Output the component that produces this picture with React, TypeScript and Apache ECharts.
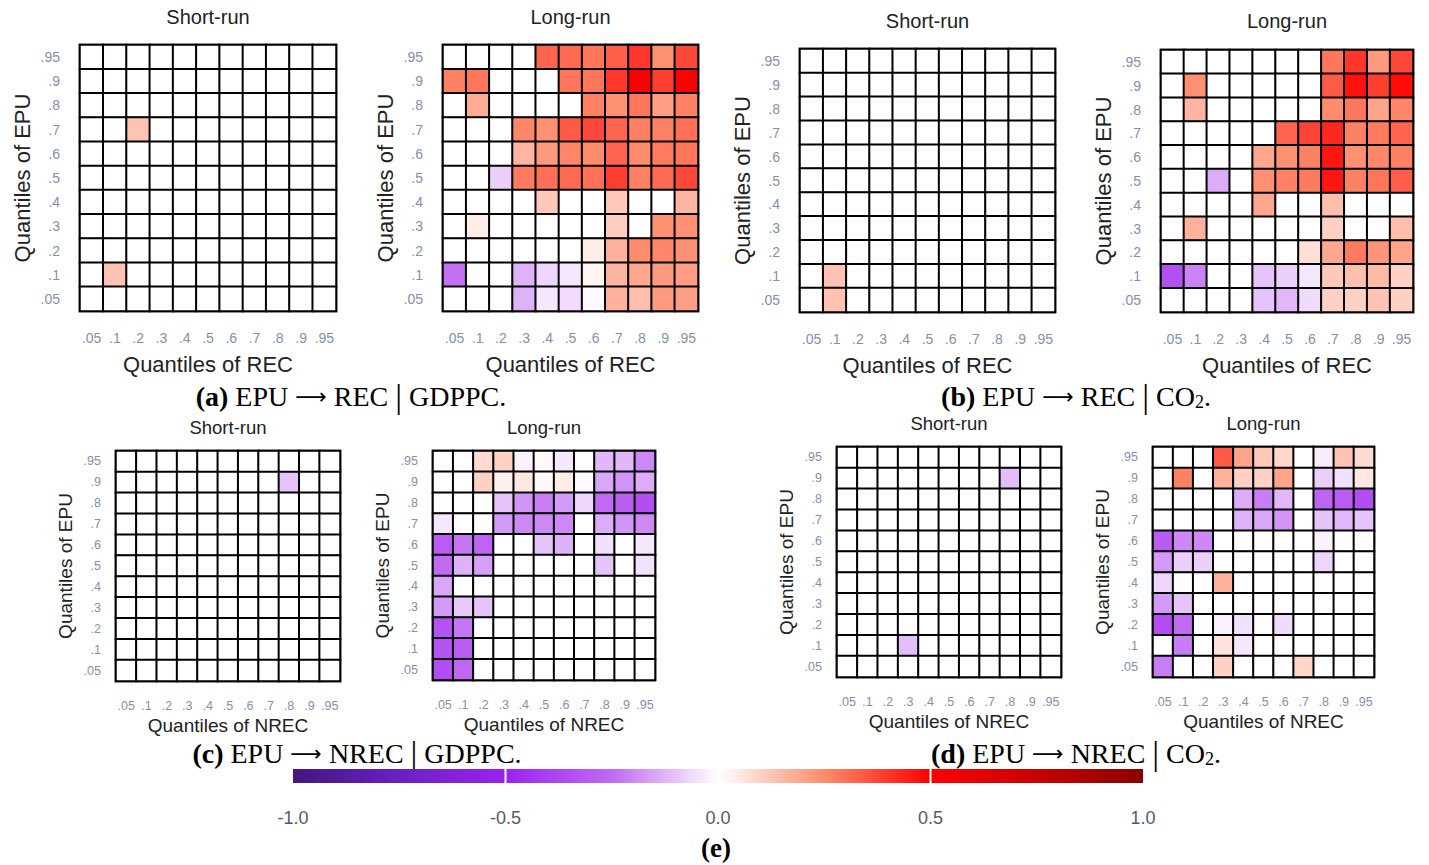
import React, { useEffect, useRef } from "react";
import * as echarts from "echarts";

// ---------- data ----------
const quantiles = [".05", ".1", ".2", ".3", ".4", ".5", ".6", ".7", ".8", ".9", ".95"];
const colorbarTicks = [-1.0, -0.5, 0.0, 0.5, 1.0];
const colorStops = ["#43177f", "#6a20c2", "#9d22ee", "#c06af4", "#ffffff", "#ff8c6c", "#ff0000", "#c80000", "#8b0000"];

// rows listed top (.95) to bottom (.05); columns .05 ... .95
const aShort = [
  [0, 0, 0, 0, 0, 0, 0, 0, 0, 0, 0],
  [0, 0, 0, 0, 0, 0, 0, 0, 0, 0, 0],
  [0, 0, 0, 0, 0, 0, 0, 0, 0, 0, 0],
  [0, 0, 0.13, 0, 0, 0, 0, 0, 0, 0, 0],
  [0, 0, 0, 0, 0, 0, 0, 0, 0, 0, 0],
  [0, 0, 0, 0, 0, 0, 0, 0, 0, 0, 0],
  [0, 0, 0, 0, 0, 0, 0, 0, 0, 0, 0],
  [0, 0, 0, 0, 0, 0, 0, 0, 0, 0, 0],
  [0, 0, 0, 0, 0, 0, 0, 0, 0, 0, 0],
  [0, 0.13, 0, 0, 0, 0, 0, 0, 0, 0, 0],
  [0, 0, 0, 0, 0, 0, 0, 0, 0, 0, 0],
];
const aLong = [
  [0, 0, 0, 0, 0.32, 0.31, 0.29, 0.33, 0.4, 0.24, 0.37],
  [0.27, 0.29, 0, 0, 0, 0.29, 0.29, 0.4, 0.5, 0.39, 0.5],
  [0, 0.18, 0, 0, 0, 0, 0.27, 0.24, 0.29, 0.21, 0.27],
  [0, 0, 0, 0.26, 0.24, 0.34, 0.37, 0.32, 0.27, 0.27, 0.3],
  [0, 0, 0, 0.16, 0.22, 0.26, 0.25, 0.32, 0.25, 0.28, 0.29],
  [0, 0, -0.08, 0.28, 0.3, 0.31, 0.3, 0.39, 0.27, 0.31, 0.37],
  [0, 0, 0, 0, 0.12, 0, 0, 0.12, 0, 0, 0.16],
  [0, 0.04, 0, 0, 0, 0, 0, 0.11, 0, 0.24, 0.24],
  [0, 0, 0, 0, 0, 0, 0.04, 0.17, 0.25, 0.26, 0.24],
  [-0.24, 0, 0, -0.13, -0.07, -0.04, 0.02, 0.16, 0.19, 0.22, 0.21],
  [0, 0, 0, -0.13, -0.04, -0.06, -0.01, 0.17, 0.14, 0.22, 0.21],
];
const bShort = [
  [0, 0, 0, 0, 0, 0, 0, 0, 0, 0, 0],
  [0, 0, 0, 0, 0, 0, 0, 0, 0, 0, 0],
  [0, 0, 0, 0, 0, 0, 0, 0, 0, 0, 0],
  [0, 0, 0, 0, 0, 0, 0, 0, 0, 0, 0],
  [0, 0, 0, 0, 0, 0, 0, 0, 0, 0, 0],
  [0, 0, 0, 0, 0, 0, 0, 0, 0, 0, 0],
  [0, 0, 0, 0, 0, 0, 0, 0, 0, 0, 0],
  [0, 0, 0, 0, 0, 0, 0, 0, 0, 0, 0],
  [0, 0, 0, 0, 0, 0, 0, 0, 0, 0, 0],
  [0, 0.13, 0, 0, 0, 0, 0, 0, 0, 0, 0],
  [0, 0.13, 0, 0, 0, 0, 0, 0, 0, 0, 0],
];
const bLong = [
  [0, 0, 0, 0, 0, 0, 0, 0.29, 0.4, 0.22, 0.37],
  [0, 0.24, 0, 0, 0, 0, 0, 0.34, 0.47, 0.39, 0.48],
  [0, 0.16, 0, 0, 0, 0, 0, 0.25, 0.29, 0.2, 0.26],
  [0, 0, 0, 0, 0, 0.32, 0.38, 0.43, 0.27, 0.28, 0.32],
  [0, 0, 0, 0, 0.19, 0.24, 0.27, 0.46, 0.24, 0.26, 0.27],
  [0, 0, -0.14, 0, 0.24, 0.27, 0.28, 0.46, 0.27, 0.29, 0.33],
  [0, 0, 0, 0, 0.19, 0, 0, 0.14, 0, 0, 0],
  [0, 0.17, 0, 0, 0, 0, 0, 0.1, 0, 0, 0.14],
  [0, 0, 0, 0, 0, 0, 0.07, 0.19, 0.28, 0.23, 0.2],
  [-0.34, -0.21, 0, 0, -0.1, -0.08, -0.04, 0.12, 0.14, 0.15, 0.1],
  [0, 0, 0, 0, -0.1, -0.12, -0.06, 0.1, 0.1, 0.13, 0.1],
];
const cShort = [
  [0, 0, 0, 0, 0, 0, 0, 0, 0, 0, 0],
  [0, 0, 0, 0, 0, 0, 0, 0, -0.1, 0, 0],
  [0, 0, 0, 0, 0, 0, 0, 0, 0, 0, 0],
  [0, 0, 0, 0, 0, 0, 0, 0, 0, 0, 0],
  [0, 0, 0, 0, 0, 0, 0, 0, 0, 0, 0],
  [0, 0, 0, 0, 0, 0, 0, 0, 0, 0, 0],
  [0, 0, 0, 0, 0, 0, 0, 0, 0, 0, 0],
  [0, 0, 0, 0, 0, 0, 0, 0, 0, 0, 0],
  [0, 0, 0, 0, 0, 0, 0, 0, 0, 0, 0],
  [0, 0, 0, 0, 0, 0, 0, 0, 0, 0, 0],
  [0, 0, 0, 0, 0, 0, 0, 0, 0, 0, 0],
];
const cLong = [
  [0, 0, 0.08, 0.1, -0.02, 0.01, -0.04, 0, -0.12, -0.12, -0.2],
  [0, 0, 0.1, 0.03, 0.05, 0.01, 0.04, -0.01, -0.15, -0.18, -0.14],
  [0, 0, 0, -0.1, -0.18, -0.22, -0.17, -0.07, -0.25, -0.29, -0.35],
  [-0.04, 0, 0, -0.17, -0.2, -0.2, -0.2, 0, -0.14, -0.18, -0.2],
  [-0.3, -0.23, -0.27, 0, 0, -0.1, -0.13, 0, -0.05, 0, -0.04],
  [-0.25, -0.13, -0.16, 0, 0, 0, 0, 0, -0.1, 0, -0.05],
  [-0.15, 0, 0, 0, 0, 0, 0, 0, 0, 0, 0],
  [-0.17, -0.09, -0.1, 0, 0, 0, 0, 0, 0, 0, 0],
  [-0.33, -0.23, 0, 0, 0, 0, 0, 0, 0, 0, 0],
  [-0.33, -0.3, 0, 0, 0, 0, 0, 0, 0, 0, 0],
  [-0.35, -0.26, 0, 0, 0, 0, 0, 0, 0, 0, 0],
];
const dShort = [
  [0, 0, 0, 0, 0, 0, 0, 0, 0, 0, 0],
  [0, 0, 0, 0, 0, 0, 0, 0, -0.11, 0, 0],
  [0, 0, 0, 0, 0, 0, 0, 0, 0, 0, 0],
  [0, 0, 0, 0, 0, 0, 0, 0, 0, 0, 0],
  [0, 0, 0, 0, 0, 0, 0, 0, 0, 0, 0],
  [0, 0, 0, 0, 0, 0, 0, 0, 0, 0, 0],
  [0, 0, 0, 0, 0, 0, 0, 0, 0, 0, 0],
  [0, 0, 0, 0, 0, 0, 0, 0, 0, 0, 0],
  [0, 0, 0, 0, 0, 0, 0, 0, 0, 0, 0],
  [0, 0, 0, -0.11, 0, 0, 0, 0, 0, 0, 0],
  [0, 0, 0, 0, 0, 0, 0, 0, 0, 0, 0],
];
const dLong = [
  [0, 0, 0, 0.34, 0.2, 0.12, 0.09, 0, -0.03, 0.13, 0.08],
  [0, 0.27, 0, 0.17, 0.1, 0.1, 0.2, 0, -0.08, -0.05, 0.05],
  [0, 0, 0, 0, -0.14, -0.22, -0.12, 0, -0.27, -0.3, -0.35],
  [0, 0, 0, 0, -0.13, -0.15, -0.18, 0, -0.1, -0.12, -0.1],
  [-0.3, -0.2, -0.2, 0, 0, 0, 0, 0, -0.02, 0, 0],
  [-0.17, -0.08, -0.08, 0, 0, 0, 0, 0, -0.07, 0, 0],
  [-0.07, 0, 0, 0.17, 0, 0, 0, 0, 0, 0, 0],
  [-0.17, -0.1, 0, 0, 0, 0, 0, 0, 0, 0, 0],
  [-0.35, -0.25, 0, -0.02, -0.05, 0.005, -0.06, 0, 0, 0, 0],
  [0, -0.22, 0, 0.06, -0.04, 0, 0, 0, 0, 0, 0],
  [-0.22, 0, 0, 0.1, 0, 0, 0, 0.09, 0, 0, 0],
];

const panelTitles = ["Short-run", "Long-run", "Short-run", "Long-run", "Short-run", "Long-run", "Short-run", "Long-run"];
const xNames = ["Quantiles of REC", "Quantiles of REC", "Quantiles of REC", "Quantiles of REC", "Quantiles of NREC", "Quantiles of NREC", "Quantiles of NREC", "Quantiles of NREC"];
const yName = "Quantiles of EPU";
const matrices = [aShort, aLong, bShort, bLong, cShort, cLong, dShort, dLong];

// ---------- layout ----------
// [left, top, right, bottom, titleY, big]
const boxes: [number, number, number, number, number, boolean][] = [
  [80, 45, 336, 311, 17, true],
  [443, 45, 698, 311, 17, true],
  [800, 49, 1055, 312, 21, true],
  [1161, 50, 1413, 312, 21, true],
  [116, 451, 340, 681, 427, false],
  [433, 451, 655, 680, 427, false],
  [837, 447, 1061, 677, 423, false],
  [1153, 447, 1374, 677, 423, false],
];

const SANS = "'Liberation Sans', Arial, sans-serif";
const SERIF = "'Liberation Serif', 'Times New Roman', serif";
const LABEL_COLOR = "#8290ae";
const TEXT_COLOR = "#222222";

function toCells(m: number[][]) {
  const out: [number, number, number][] = [];
  m.forEach((row, r) => {
    row.forEach((v, c) => {
      out.push([c, m.length - 1 - r, v]);
    });
  });
  return out;
}

export default function App() {
  const ref = useRef<HTMLDivElement>(null);

  useEffect(() => {
    if (!ref.current) return;
    const chart = echarts.init(ref.current, null, { renderer: "svg" });

    const grids = boxes.map(([l, t, r, b]) => ({
      left: l,
      top: t,
      width: r - l,
      height: b - t,
      show: true,
      borderColor: "#000",
      borderWidth: 2.5,
      backgroundColor: "#fff",
      containLabel: false,
    }));

    const xAxes = boxes.map((bx, i) => ({
      type: "category",
      gridIndex: i,
      data: quantiles,
      axisLine: { show: false },
      axisTick: { show: false },
      splitLine: { show: false },
      axisLabel: {
        interval: 0,
        margin: bx[5] ? 20 : 18,
        color: LABEL_COLOR,
        fontSize: bx[5] ? 14 : 12.5,
        fontFamily: SANS,
      },
      name: xNames[i],
      nameLocation: "middle",
      nameGap: bx[5] ? 42 : 35,
      nameTextStyle: { fontSize: bx[5] ? 22 : 19, color: TEXT_COLOR, fontFamily: SANS },
    }));

    const yAxes = boxes.map((bx, i) => ({
      type: "category",
      gridIndex: i,
      data: quantiles,
      axisLine: { show: false },
      axisTick: { show: false },
      splitLine: { show: false },
      axisLabel: {
        interval: 0,
        margin: bx[5] ? 20 : 15,
        color: LABEL_COLOR,
        fontSize: bx[5] ? 14 : 12.5,
        fontFamily: SANS,
      },
      name: yName,
      nameLocation: "middle",
      nameGap: bx[5] ? 47 : 41,
      nameTextStyle: { fontSize: bx[5] ? 22 : 19, color: TEXT_COLOR, fontFamily: SANS },
    }));

    const series = matrices.map((m, i) => ({
      type: "heatmap",
      xAxisIndex: i,
      yAxisIndex: i,
      data: toCells(m),
      itemStyle: { borderColor: "#000", borderWidth: 2 },
      emphasis: { disabled: true },
      label: { show: false },
    }));

    // colour bar
    const barL = 293, barR = 1143, barT = 769, barH = 14;
    const barW = barR - barL;
    const graphics: any[] = [];
    boxes.forEach((bx, i) => {
      graphics.push({
        type: "text",
        x: (bx[0] + bx[2]) / 2,
        y: bx[4],
        style: {
          text: panelTitles[i],
          fill: TEXT_COLOR,
          font: `${bx[5] ? 20 : 18.5}px ${SANS}`,
          textAlign: "center",
          align: "center",
          textVerticalAlign: "middle",
          verticalAlign: "middle",
        },
      });
    });

    const captionRich = {
      b: { fontFamily: SERIF, fontWeight: "bold", fontSize: 28, fill: "#000", color: "#000" },
      n: { fontFamily: SERIF, fontSize: 28, fill: "#000", color: "#000" },
      arr: { fontFamily: "'DejaVu Sans', sans-serif", fontSize: 22, fill: "#000", color: "#000" },
      bar: { fontFamily: SERIF, fontSize: 34, fill: "#000", color: "#000" },
      sub: { fontFamily: SERIF, fontSize: 18, fill: "#000", color: "#000", padding: [12, 0, 0, 0] },
    };
    const captions: [number, number, string][] = [
      [351, 396, "{b|(a)}{n| EPU }{arr|⟶}{n| REC }{bar||}{n| GDPPC.}"],
      [1076, 396, "{b|(b)}{n| EPU }{arr|⟶}{n| REC }{bar||}{n| CO}{sub|2}{n|.}"],
      [357, 753, "{b|(c)}{n| EPU }{arr|⟶}{n| NREC }{bar||}{n| GDPPC.}"],
      [1076, 753, "{b|(d)}{n| EPU }{arr|⟶}{n| NREC }{bar||}{n| CO}{sub|2}{n|.}"],
    ];
    captions.forEach(([x, y, t]) => {
      graphics.push({
        type: "text",
        x,
        y,
        style: {
          text: t,
          rich: captionRich,
          textAlign: "center",
          align: "center",
          textVerticalAlign: "middle",
          verticalAlign: "middle",
        },
      });
    });

    graphics.push({
      type: "rect",
      shape: { x: barL, y: barT, width: barW, height: barH },
      style: {
        fill: new echarts.graphic.LinearGradient(
          0, 0, 1, 0,
          colorStops.map((c, i) => ({ offset: i / (colorStops.length - 1), color: c }))
        ),
      },
    });
    [-0.5, 0.5].forEach((v) => {
      const x = barL + ((v + 1) / 2) * barW;
      graphics.push({
        type: "line",
        shape: { x1: x, y1: barT, x2: x, y2: barT + barH },
        style: { stroke: "#fff", lineWidth: 2 },
      });
    });
    colorbarTicks.forEach((v) => {
      graphics.push({
        type: "text",
        x: barL + ((v + 1) / 2) * barW,
        y: 818,
        style: {
          text: v.toFixed(1),
          fill: "#555a66",
          font: `18px ${SANS}`,
          textAlign: "center",
          align: "center",
          textVerticalAlign: "middle",
          verticalAlign: "middle",
        },
      });
    });
    graphics.push({
      type: "text",
      x: 716,
      y: 848,
      style: {
        text: "(e)",
        fill: "#000",
        font: `bold 27px ${SERIF}`,
        textAlign: "center",
        align: "center",
        textVerticalAlign: "middle",
        verticalAlign: "middle",
      },
    });

    chart.setOption({
      animation: false,
      backgroundColor: "#fff",
      textStyle: { fontFamily: SANS },
      grid: grids,
      xAxis: xAxes,
      yAxis: yAxes,
      visualMap: {
        type: "continuous",
        show: false,
        min: -1,
        max: 1,
        seriesIndex: series.map((_, i) => i),
        inRange: { color: colorStops },
      },
      series,
      graphic: { elements: graphics },
    });

    return () => chart.dispose();
  }, []);

  return (
    <div
      ref={ref}
      style={{ position: "absolute", left: 0, top: 0, width: 1429, height: 865, background: "#fff" }}
    />
  );
}
